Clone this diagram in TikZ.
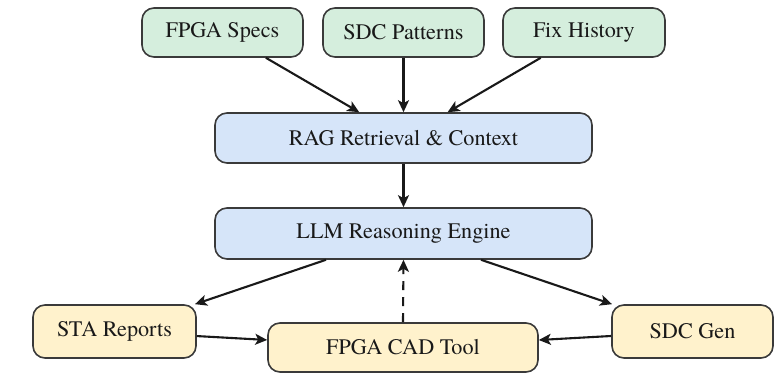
\documentclass[tikz,border=0pt]{standalone}
\usepackage{fontspec}
\setmainfont{texgyretermes}[Extension=.otf, UprightFont=*-regular, BoldFont=*-bold, ItalicFont=*-italic, BoldItalicFont=*-bolditalic]
\usetikzlibrary{arrows.meta}
\definecolor{boxgreen}{HTML}{D5EEDD}
\definecolor{boxblue}{HTML}{D6E5F9}
\definecolor{boxyellow}{HTML}{FFF2CC}
\definecolor{edgegray}{HTML}{3A3A3A}
\tikzset{
  basebox/.style={draw=edgegray, line width=0.8pt, rounded corners=6pt, inner sep=0pt,
    font=\rmfamily\fontsize{11.1pt}{13pt}\selectfont, text=black!90},
  srcbox/.style={basebox, fill=boxgreen},
  corebox/.style={basebox, fill=boxblue},
  iobox/.style={basebox, fill=boxyellow},
  conn/.style={draw=black!90, line width=1.05pt, -{Stealth[length=6pt,width=5.5pt,inset=1.5pt]}},
  fbconn/.style={conn, dash pattern=on 4.5pt off 3.5pt}
}
\begin{document}
\begin{tikzpicture}[x=0.5pt,y=-0.5pt]
\useasboundingbox (0,0) rectangle (778,374);
\node[srcbox, minimum width=80.5pt, minimum height=24.5pt] (specs) at (222.5,32.5) {FPGA Specs};
\node[srcbox, minimum width=80.5pt, minimum height=24.5pt] (sdcp) at (403.5,32.5) {SDC Patterns};
\node[srcbox, minimum width=81pt, minimum height=24.5pt] (fix) at (584,32.5) {Fix History};
\node[corebox, minimum width=188.5pt, minimum height=25pt] (rag) at (403.5,138) {RAG Retrieval \& Context};
\node[corebox, minimum width=188.5pt, minimum height=25.5pt] (llm) at (403.5,233.5) {LLM Reasoning Engine};
\node[iobox, minimum width=81.5pt, minimum height=26.5pt] (sta) at (114.5,331.5) {STA Reports};
\node[iobox, minimum width=135pt, minimum height=24.5pt] (cad) at (403,347.5) {FPGA CAD Tool};
\node[iobox, minimum width=80.5pt, minimum height=26.5pt] (sdcg) at (692.5,331.5) {SDC Gen};
\draw[conn] (specs) -- (rag);
\draw[conn] (sdcp) -- (rag);
\draw[conn] (fix) -- (rag);
\draw[conn] (rag) -- (llm);
\draw[conn] (llm) -- (sta);
\draw[conn] (llm) -- (sdcg);
\draw[conn] (sta) -- (cad);
\draw[conn] (sdcg) -- (cad);
\draw[fbconn] (cad.north) -- (llm.south);
\end{tikzpicture}
\end{document}
